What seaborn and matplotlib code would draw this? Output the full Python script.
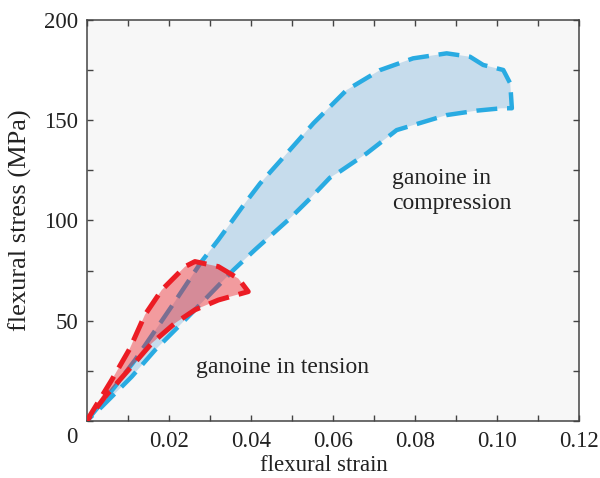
import numpy as np
import pandas as pd
import matplotlib
matplotlib.use("Agg")
import matplotlib.pyplot as plt
import seaborn as sns
from matplotlib.ticker import MultipleLocator

# ---- data ----
comp_upper_x = [0, 0.0069, 0.0118, 0.0215, 0.028, 0.0321, 0.0386, 0.0423, 0.0471, 0.0553,
                0.0634, 0.0715, 0.0796, 0.0878, 0.0935, 0.0967, 0.1016, 0.1033, 0.1037]
comp_upper_y = [0, 17.1, 30.4, 59.5, 79.5, 90.3, 108.6, 118.5, 129.5, 148.5,
                165.1, 175, 180.9, 183.4, 181.7, 177.6, 175.1, 168.4, 156]
comp_lower_x = [0.1012, 0.0951, 0.0878, 0.0837, 0.0756, 0.0683, 0.0618, 0.0593, 0.0545,
                0.0496, 0.041, 0.0358, 0.024, 0.0167, 0.011, 0.0037, 0]
comp_lower_y = [156, 154.8, 152.6, 150.1, 145.1, 133.5, 124.5, 121.3, 111,
                101.1, 85.3, 75.3, 50.4, 35.4, 22.1, 7.1, 0]

tens_upper_x = [0, 0.0061, 0.0105, 0.0142, 0.0183, 0.024, 0.0264, 0.0321, 0.037, 0.0394]
tens_upper_y = [0, 20.4, 36, 52.9, 65.3, 77, 79.5, 77, 71, 64.5]
tens_lower_x = [0.0394, 0.0321, 0.0264, 0.0215, 0.0159, 0.0102, 0.0045, 0]
tens_lower_y = [64.5, 60.3, 55.4, 48.7, 38.8, 25.4, 12.1, 0]

x_ticks = [0, 0.02, 0.04, 0.06, 0.08, 0.10, 0.12]
x_tick_labels = ["", "0.02", "0.04", "0.06", "0.08", "0.10", "0.12"]
y_ticks = [0, 50, 100, 150, 200]
y_tick_labels = ["", "50", "100", "150", "200"]

comp = pd.DataFrame({"strain": comp_upper_x + comp_lower_x,
                     "stress": comp_upper_y + comp_lower_y})
tens = pd.DataFrame({"strain": tens_upper_x + tens_lower_x,
                     "stress": tens_upper_y + tens_lower_y})

sns.set_theme(style="ticks")
plt.rcParams["font.family"] = ["Liberation Serif", "DejaVu Serif"]

fig = plt.figure(figsize=(6.0, 4.78), dpi=100)
ax = fig.add_axes([0.1445, 0.1195, 0.820, 0.8385])
ax.set_facecolor("#f7f7f7")

blue = "#29abe2"
red = "#ec1c24"
FS = 16.5

ax.fill(comp["strain"], comp["stress"], color="#c6dcec", lw=0, zorder=1)
sns.lineplot(data=comp, x="strain", y="stress", sort=False, estimator=None,
             color=blue, lw=3.2, ax=ax, zorder=2)
ax.lines[-1].set_dashes([4.7, 2.2])
ax.fill(tens["strain"], tens["stress"], color=red, alpha=0.42, lw=0, zorder=3)
sns.lineplot(data=tens, x="strain", y="stress", sort=False, estimator=None,
             color=red, lw=3.6, ax=ax, zorder=4)
ax.lines[-1].set_dashes([4.2, 2.0])

ax.set_xlim(0, 0.12)
ax.set_ylim(0, 200)
ax.set_xticks(x_ticks)
ax.set_xticklabels(x_tick_labels)
ax.set_yticks(y_ticks)
ax.set_yticklabels(y_tick_labels)
ax.xaxis.set_minor_locator(MultipleLocator(0.01))
ax.yaxis.set_minor_locator(MultipleLocator(25))
ax.tick_params(which="both", direction="in", top=True, right=True,
               length=4, width=1.0, color="#444444", labelsize=FS,
               labelcolor="#222222")
ax.tick_params(axis="x", pad=7)
ax.tick_params(axis="y", pad=6)
for s in ax.spines.values():
    s.set_color("#444444")
    s.set_linewidth(1.1)

ax.set_xlabel("flexural strain", fontsize=FS, color="#222222", labelpad=2)
ax.xaxis.set_label_coords(0.482, -0.085)
ax.set_ylabel("flexural stress (MPa)", fontsize=19, color="#222222", labelpad=6)
ax.yaxis.set_label_coords(-0.111, 0.5)

ax.annotate("0", xy=(0, 0), xytext=(-11, -12), textcoords="offset points",
            ha="center", va="center", fontsize=FS, color="#222222")

ax.text(0.0267, 26.4, "ganoine in tension", fontsize=17, color="#222222",
        ha="left", va="center")
ax.text(0.0745, 114.7, "ganoine in\ncompression", fontsize=17, color="#222222",
        ha="left", va="center", linespacing=1.25)

fig.savefig("out.png", dpi=100, facecolor="white")
